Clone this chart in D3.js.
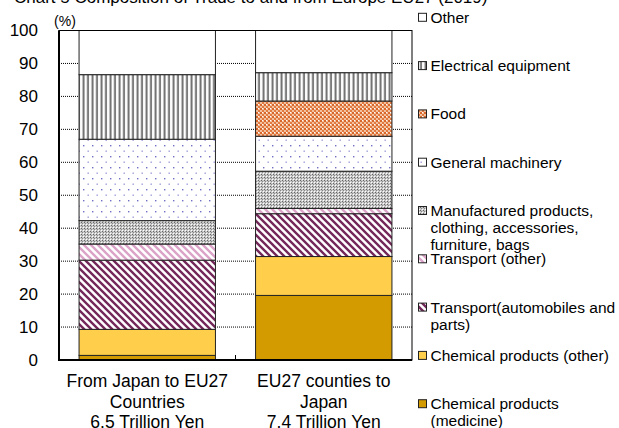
<!DOCTYPE html>
<html><head><meta charset="utf-8">
<script src="https://cdn.jsdelivr.net/npm/d3@7"></script>
<style>
html,body{margin:0;padding:0;background:#fff;}
svg{display:block;font-family:"Liberation Sans",Arial,sans-serif;}
</style></head>
<body>
<svg id="c" width="619" height="428"></svg>
<script>
// ---- data ----
const categories = ["From Japan to EU27\nCountries\n6.5 Trillion Yen", "EU27 counties to\nJapan\n7.4 Trillion Yen"];
const seriesKeys = ["medicine","chemOther","autos","transOther","manufactured","machinery","food","electrical","other"];
const seriesLabels = [
  "Chemical products\n(medicine)",
  "Chemical products (other)",
  "Transport(automobiles and\nparts)",
  "Transport (other)",
  "Manufactured products,\nclothing,  accessories,\nfurniture, bags",
  "General machinery",
  "Food",
  "Electrical equipment",
  "Other"
];
const japanToEU = [1.4, 7.9, 21.0, 4.9, 7.1, 24.7, 0, 19.6, 13.4];
const euToJapan = [19.6, 11.8, 13.0, 1.6, 11.3, 10.6, 10.7, 8.6, 12.8];
const yTicks = [0,10,20,30,40,50,60,70,80,90,100];
const titleText = "Chart 5  Composition of Trade to and from Europe EU27 (2019)";

// ---- build ----
const svg = d3.select("#c");
const plot = {l:59, r:412, t:30.5, b:360};

const rows = categories.map((c,i)=>{
  const vals = i===0 ? japanToEU : euToJapan;
  const o = {cat:c};
  seriesKeys.forEach((k,j)=>o[k]=vals[j]);
  return o;
});
const stacked = d3.stack().keys(seriesKeys)(rows);

const x = d3.scaleBand().domain(categories).range([plot.l, plot.r]).paddingInner(40/176).paddingOuter(20/176);
const y = d3.scaleLinear().domain([0,100]).range([plot.b, plot.t]);

// patterns
const defs = svg.append("defs");
function pat(id,w,h,draw,bg){
  const p = defs.append("pattern").attr("id",id).attr("patternUnits","userSpaceOnUse").attr("width",w).attr("height",h);
  p.append("rect").attr("width",w).attr("height",h).attr("fill",bg||"#fff");
  draw(p);
}
pat("pAutos",7,7,p=>{
  p.append("path").attr("d","M-1,-1 L8,8 M-1,6 L1,8 M6,-1 L8,1").attr("stroke","#74285a").attr("stroke-width",2.4);
});
pat("pTransOther",7,7,p=>{
  p.append("path").attr("d","M-1,-1 L8,8 M-1,6 L1,8 M6,-1 L8,1").attr("stroke","#dba3c8").attr("stroke-width",2.4);
});
pat("pManu",3,3,p=>{
  p.append("rect").attr("width",3).attr("height",3).attr("fill","#c8c8c8");
  p.append("rect").attr("x",0).attr("y",0).attr("width",1).attr("height",1).attr("fill","#666");
  p.append("rect").attr("x",2).attr("y",2).attr("width",1).attr("height",1).attr("fill","#fff");
  p.append("rect").attr("x",1).attr("y",1).attr("width",1).attr("height",1).attr("fill","#888");
});
pat("pMach",9,11,p=>{
  p.append("rect").attr("x",2).attr("y",2).attr("width",1.4).attr("height",1.4).attr("fill","#6f6fc4");
  p.append("rect").attr("x",6.5).attr("y",7.5).attr("width",1.4).attr("height",1.4).attr("fill","#9c9cd8");
});
pat("pFood",4,4,p=>{
  p.append("rect").attr("width",4).attr("height",4).attr("fill","#f2c2a0");
  p.append("rect").attr("x",0).attr("y",0).attr("width",2).attr("height",2).attr("fill","#d9662a");
  p.append("rect").attr("x",2).attr("y",2).attr("width",2).attr("height",2).attr("fill","#e07a40");
  p.append("rect").attr("x",2).attr("y",0).attr("width",1).attr("height",1).attr("fill","#fff");
});
pat("pElec",4.5,4,p=>{
  p.append("rect").attr("x",1.5).attr("y",0).attr("width",2).attr("height",4).attr("fill","#6f6f6f");
});
const fills = {
  medicine:"#d39b00", chemOther:"#ffcf4c", autos:"url(#pAutos)", transOther:"url(#pTransOther)",
  manufactured:"url(#pManu)", machinery:"url(#pMach)", food:"url(#pFood)", electrical:"url(#pElec)", other:"#fff"
};

// title (clipped at top as in reference)
svg.append("text").attr("x",14).attr("y",3).attr("font-size",17).attr("fill","#000").text(titleText);

// gridlines
svg.append("g").selectAll("line").data(yTicks.filter(t=>t>0&&t<100)).join("line")
  .attr("x1",plot.l).attr("x2",plot.r).attr("y1",d=>y(d)).attr("y2",d=>y(d))
  .attr("stroke","#000").attr("stroke-width",1).attr("stroke-dasharray","1,1");

// bars
const g = svg.append("g");
stacked.forEach(s=>{
  g.selectAll(null).data(s.filter(d=>d[1]-d[0]>0)).join("rect")
    .attr("x",d=>x(d.data.cat)).attr("width",x.bandwidth())
    .attr("y",d=>y(d[1])).attr("height",d=>y(d[0])-y(d[1]))
    .attr("fill",fills[s.key]).attr("stroke","#222").attr("stroke-width",1);
});

// frame
svg.append("rect").attr("x",plot.l).attr("y",plot.t).attr("width",plot.r-plot.l).attr("height",plot.b-plot.t)
  .attr("fill","none").attr("stroke","#000").attr("stroke-width",1);
svg.append("line").attr("x1",plot.l).attr("x2",plot.l).attr("y1",plot.t).attr("y2",plot.b+1).attr("stroke","#000").attr("stroke-width",2);
svg.append("line").attr("x1",plot.l).attr("x2",plot.r).attr("y1",plot.b).attr("y2",plot.b).attr("stroke","#000").attr("stroke-width",2);
// category separator tick
const mid = (x(categories[0])+x.bandwidth()+x(categories[1]))/2;
svg.append("line").attr("x1",mid).attr("x2",mid).attr("y1",plot.b).attr("y2",plot.b-5).attr("stroke","#000");

// y axis labels
const yAxis = d3.axisLeft(y).tickValues(yTicks).tickSize(0).tickPadding(21);
const ya = svg.append("g").attr("transform",`translate(${plot.l},0)`).call(yAxis);
ya.select(".domain").remove();
ya.selectAll("text").attr("font-size",17).attr("font-family","Liberation Sans, Arial, sans-serif").attr("fill","#000");

svg.append("text").attr("x",65).attr("y",26).attr("text-anchor","middle").attr("font-size",14).text("(%)");

// x labels
const xl = svg.append("g");
categories.forEach(c=>{
  const lines = c.split("\n");
  const t = xl.append("text").attr("text-anchor","middle").attr("font-size",17.5);
  lines.forEach((ln,i)=>t.append("tspan").attr("x",x(c)+x.bandwidth()/2).attr("y",387+i*20.5).text(ln));
});

// legend (reverse order)
const legOrder = d3.range(seriesKeys.length).reverse();
const lg = svg.append("g");
legOrder.forEach((si,i)=>{
  const cy = 17.3 + i*48.3;
  lg.append("rect").attr("x",418.5).attr("y",cy-4).attr("width",8).attr("height",8)
    .attr("fill",fills[seriesKeys[si]]).attr("stroke","#222").attr("stroke-width",1);
  const t = lg.append("text").attr("font-size",15.5).attr("fill","#000");
  seriesLabels[si].split("\n").forEach((ln,j)=>
    t.append("tspan").attr("x",430.5).attr("y",cy+5.5+j*17.2).text(ln));
});
</script>
</body></html>
